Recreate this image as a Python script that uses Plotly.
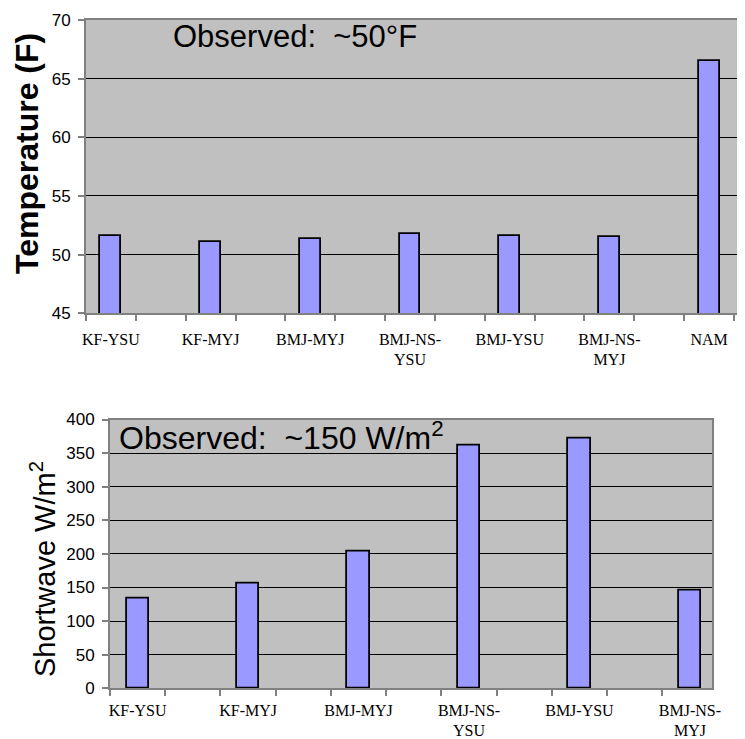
import plotly.graph_objects as go

# ---- data ----
temp_models = ["KF-YSU", "KF-MYJ", "BMJ-MYJ", "BMJ-NS-<br>YSU", "BMJ-YSU", "BMJ-NS-<br>MYJ", "NAM"]
temp_values = [51.6, 51.1, 51.3, 51.8, 51.6, 51.5, 66.5]
sw_models = ["KF-YSU", "KF-MYJ", "BMJ-MYJ", "BMJ-NS-<br>YSU", "BMJ-YSU", "BMJ-NS-<br>MYJ"]
sw_values = [134, 156, 204, 361, 372, 145]
temp_ticks = [45, 50, 55, 60, 65, 70]
sw_ticks = [0, 50, 100, 150, 200, 250, 300, 350, 400]

# page has an 8px body margin; figure sized to fit the window
OFF = 8
W, H = 745 - OFF, 739 - OFF
BAR = "#9999FF"
BG = "#C0C0C0"
AXC = "#808080"

temp_pos = list(range(len(temp_models)))
sw_pos = list(range(len(sw_models)))

fig = go.Figure()
fig.add_trace(go.Bar(x=temp_pos, y=temp_values, width=0.21,
                     marker=dict(color=BAR, line=dict(color="black", width=1.8)),
                     xaxis="x", yaxis="y", showlegend=False))
fig.add_trace(go.Bar(x=sw_pos, y=sw_values, width=0.2,
                     marker=dict(color=BAR, line=dict(color="black", width=1.8)),
                     xaxis="x2", yaxis="y2", showlegend=False))

def px_x(p):
    return (p - OFF) / W

def px_y(p):
    return 1 - (p - OFF) / H

tick_font = dict(family="Liberation Sans, Arial", size=17, color="black")
cat_font = dict(family="Liberation Serif, Times New Roman", size=16, color="black")

def xaxis(dom, rng, n, labels, anchor, standoff):
    return dict(domain=dom, range=rng, anchor=anchor, automargin=False,
                tickmode="array", tickvals=list(range(n)), ticktext=labels,
                ticks="", showgrid=False, zeroline=False,
                showline=True, linecolor=AXC, linewidth=2, mirror=True,
                tickfont=cat_font, ticklabelstandoff=standoff,
                minor=dict(tickmode="array",
                           tickvals=[k * 0.5 - 0.25 for k in range(2 * n + 1)],
                           ticks="outside", ticklen=6, tickcolor=AXC, tickwidth=1.5,
                           showgrid=False))

def yaxis(dom, rng, ticks, anchor):
    return dict(domain=dom, range=rng, anchor=anchor, automargin=False,
                tickmode="array", tickvals=ticks,
                ticks="outside", ticklen=6, tickcolor=AXC, tickwidth=1.5,
                showgrid=True, gridcolor="black", gridwidth=1,
                zeroline=False, showline=True, linecolor=AXC, linewidth=2, mirror=True,
                tickfont=tick_font, ticklabelstandoff=4)

fig.update_layout(
    width=W, height=H,
    margin=dict(l=0, r=0, t=0, b=0),
    paper_bgcolor="white",
    plot_bgcolor=BG,
    bargap=0,
    xaxis=xaxis([px_x(86), 1.0], [-0.25, 6.36], len(temp_models), temp_models, "y", 10),
    yaxis=yaxis([px_y(313.3), px_y(20)], [45, 70], temp_ticks, "x"),
    xaxis2=xaxis([px_x(110), px_x(712)], [-0.25, 5.2], len(sw_models), sw_models, "y2", 6),
    yaxis2=yaxis([px_y(688.3), px_y(419.5)], [0, 400], sw_ticks, "x2"),
)

fig.add_annotation(xref="paper", yref="paper", x=px_x(27), y=px_y(154),
                   text="<b>Temperature (F)</b>", textangle=-90, showarrow=False,
                   xanchor="center", yanchor="middle",
                   font=dict(family="Liberation Sans, Arial", size=32, color="black"))
fig.add_annotation(xref="paper", yref="paper", x=px_x(43), y=px_y(569),
                   text="Shortwave W/m<sup>2</sup>", textangle=-90, showarrow=False,
                   xanchor="center", yanchor="middle",
                   font=dict(family="Liberation Sans, Arial", size=29, color="black"))
fig.add_annotation(xref="paper", yref="paper", x=px_x(171), y=px_y(37),
                   text="Observed:&nbsp; ~50°F", showarrow=False,
                   xanchor="left", yanchor="middle",
                   font=dict(family="Liberation Sans, Arial", size=31, color="black"))
fig.add_annotation(xref="paper", yref="paper", x=px_x(117), y=px_y(436),
                   text="Observed:&nbsp; ~150 W/m<sup>2</sup>", showarrow=False,
                   xanchor="left", yanchor="middle",
                   font=dict(family="Liberation Sans, Arial", size=32, color="black"))

fig.write_html("out.html")
